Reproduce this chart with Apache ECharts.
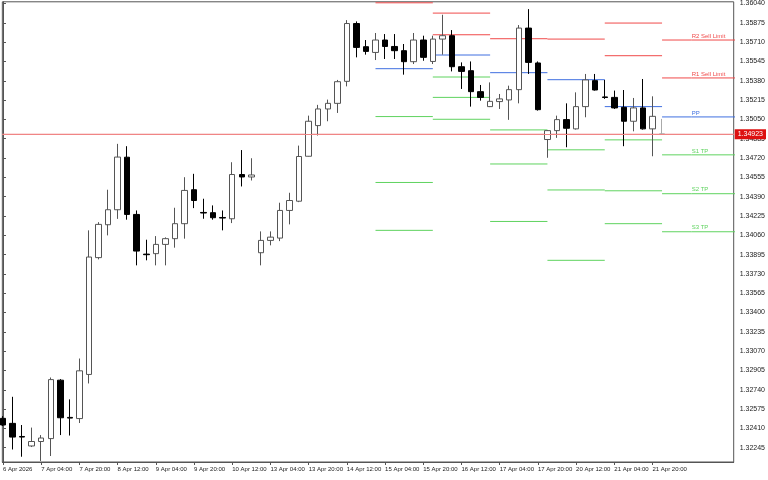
<!DOCTYPE html>
<html><head><meta charset="utf-8">
<script src="https://cdn.jsdelivr.net/npm/echarts@6/dist/echarts.min.js"></script>
<style>html,body{margin:0;padding:0;background:#fff}#c{width:768px;height:480px}</style>
</head><body><div id="c"></div>
<script>
// ---- x axis (4H bars numbered from 6 Apr 12:00, weekends skipped) ----
const xTickLabels = ['6 Apr 2026','7 Apr 04:00','7 Apr 20:00','8 Apr 12:00','9 Apr 04:00','9 Apr 20:00',
  '10 Apr 12:00','13 Apr 04:00','13 Apr 20:00','14 Apr 12:00','15 Apr 04:00','15 Apr 20:00',
  '16 Apr 12:00','17 Apr 04:00','17 Apr 20:00','20 Apr 12:00','21 Apr 04:00','21 Apr 20:00'];
const xTickBars = [0,4,8,12,16,20,24,28,32,36,40,44,48,52,56,60,64,68];
const xMin = -0.07, xMax = 76.5;

// ---- OHLC ----
const opens = [1.32496,1.32453,1.32341,1.32260,1.32298,1.32323,1.32822,1.32504,1.32494,1.32871,
  1.33869,1.34150,1.34278,1.34727,1.34238,1.33899,1.33903,1.33982,1.34031,1.34159,
  1.34449,1.34255,1.34253,1.34212,1.34201,1.34579,1.34558,1.33911,1.34016,1.34036,
  1.34272,1.34351,1.34735,1.34997,1.35139,1.35187,1.35375,1.35869,1.35671,1.35622,
  1.35728,1.35673,1.35637,1.35543,1.35728,1.35545,1.35736,1.35765,1.35500,1.35466,
  1.35287,1.35159,1.35202,1.35216,1.35304,1.35830,1.35532,1.34878,1.34954,1.35048,
  1.34969,1.35159,1.35381,1.35242,1.35238,1.35153,1.35034,1.35148,1.34969,1.34926];
const closes = [1.32439,1.32336,1.32336,1.32298,1.32328,1.32827,1.32501,1.32498,1.32902,1.33874,
  1.34153,1.34278,1.34728,1.34238,1.33925,1.33894,1.33982,1.34031,1.34159,1.34443,
  1.34357,1.34250,1.34210,1.34207,1.34579,1.34558,1.34575,1.34016,1.34044,1.34272,
  1.34357,1.34733,1.35034,1.35139,1.35187,1.35372,1.35869,1.35665,1.35631,1.35728,
  1.35673,1.35637,1.35543,1.35728,1.35580,1.35736,1.35765,1.35500,1.35460,1.35287,
  1.35238,1.35204,1.35225,1.35304,1.35830,1.35537,1.35133,1.34954,1.35048,1.34974,
  1.35159,1.35387,1.35301,1.35237,1.35148,1.35034,1.35148,1.34969,1.35076,1.34923];
const lows = [1.32430,1.32230,1.32168,1.32251,1.32132,1.32174,1.32353,1.32349,1.32456,1.32794,
  1.33854,1.34059,1.34200,1.34193,1.33803,1.33846,1.33803,1.33803,1.33954,1.34031,
  1.34292,1.34201,1.34193,1.34102,1.34164,1.34477,1.34528,1.33803,1.33974,1.34010,
  1.34153,1.34343,1.34733,1.34912,1.35034,1.35105,1.35332,1.35580,1.35603,1.35557,
  1.35566,1.35566,1.35432,1.35523,1.35551,1.35523,1.35603,1.35460,1.35310,1.35159,
  1.35210,1.35155,1.35139,1.35046,1.35187,1.35438,1.35125,1.34722,1.34892,1.34812,
  1.34963,1.35068,1.35296,1.35225,1.35139,1.34821,1.34948,1.34963,1.34735,1.34920];
const highs = [1.32515,1.32680,1.32439,1.32417,1.32353,1.32845,1.32831,1.32658,1.33007,1.34102,
  1.34172,1.34449,1.34841,1.34821,1.34272,1.34022,1.34053,1.34042,1.34295,1.34556,
  1.34585,1.34372,1.34315,1.34272,1.34684,1.34788,1.34718,1.34093,1.34093,1.34338,
  1.34423,1.34826,1.35082,1.35174,1.35219,1.35387,1.35898,1.35887,1.35728,1.35788,
  1.35779,1.35779,1.35694,1.35788,1.35765,1.35765,1.35944,1.35813,1.35537,1.35545,
  1.35344,1.35366,1.35267,1.35338,1.35856,1.35992,1.35545,1.34959,1.35082,1.35187,
  1.35281,1.35438,1.35438,1.35387,1.35296,1.35301,1.35233,1.35395,1.35247,1.35054];
const currentPrice = 1.34923;

// ---- y axis ticks ----
const yTickValues = [1.36040,1.35875,1.35710,1.35545,1.35380,1.35215,1.35050,1.34885,1.34720,1.34555,
  1.34390,1.34225,1.34060,1.33895,1.33730,1.33565,1.33400,1.33235,1.33070,1.32905,
  1.32740,1.32575,1.32410,1.32245];
const yMin = 1.32123, yMax = 1.360545;

// ---- daily pivot levels (15..22 Apr) ----
const levelStart = [39,45,51,57,63,69];
const levelEnd   = [45,51,57,63,69,80];
const levelR2 = [null,   1.35958,null,   null,   1.35873,1.35728];
const levelR1 = [1.36046,1.35773,1.35739,1.35736,1.35594,1.35404];
const levelPP = [1.35483,1.35600,1.35449,1.35389,1.35159,1.35071];
const levelS1 = [1.35074,1.35412,1.34960,1.34790,1.34875,1.34747];
const levelS2 = [1.34511,1.35238,1.34669,1.34447,1.34440,1.34415];
const levelS3 = [1.34102,1.35051,1.34178,1.33846,1.34159,1.34090];
const levelTags = ['R2 Sell Limit','R1 Sell Limit','PP','S1 TP','S2 TP','S3 TP'];
const labelBar = 72.1;

const RED = '#f04a4a', BLUE = '#3f6fe0', GREEN = '#5fd35f';
const FONT = '"Liberation Sans", Arial, sans-serif';

const candleData = opens.map((o, i) => {
  const item = { value: [i, o, closes[i], lows[i], highs[i]] };
  if (i === opens.length - 1) item.itemStyle = { borderColor: '#aaa', borderColor0: '#aaa', color: '#fff', color0: '#fff' };
  return item;
});

function levelSeries(arr, tag, color) {
  const data = [];
  arr.forEach((v, i) => {
    if (v == null) return;
    data.push([levelStart[i], v]);
    if (i === arr.length - 1) {
      data.push({ value: [labelBar, v], label: { show: true, formatter: tag } });
    }
    data.push([levelEnd[i], v]);
    data.push([levelEnd[i], null]);
  });
  return {
    type: 'line', data, silent: true, clip: true,
    symbol: 'circle', symbolSize: 0, showSymbol: true, showAllSymbol: true,
    connectNulls: false,
    lineStyle: { color, width: 1 }, itemStyle: { color },
    label: { show: false, position: 'top', align: 'left', distance: 1,
      color, fontSize: 6, fontFamily: FONT },
    emphasis: { disabled: true }, z: 3
  };
}

const chart = echarts.init(document.getElementById('c'), null, { renderer: 'canvas' });
chart.setOption({
  animation: false,
  backgroundColor: '#ffffff',
  grid: { left: 1, right: 33.46, top: 1, bottom: 18, show: true, borderColor: '#555', borderWidth: 1, backgroundColor: 'transparent' },
  xAxis: {
    type: 'value', min: xMin, max: xMax,
    axisLine: { show: true, lineStyle: { color: '#555' } },
    axisTick: { show: true, length: 3, customValues: xTickBars, lineStyle: { color: '#555' } },
    axisLabel: { show: true, align: 'left', margin: 4, fontSize: 6, color: '#222', fontFamily: FONT,
      customValues: xTickBars, hideOverlap: false,
      formatter: (v) => { const k = xTickBars.indexOf(Math.round(v)); return k >= 0 ? xTickLabels[k] : ''; } },
    splitLine: { show: false }
  },
  yAxis: {
    type: 'value', position: 'right', min: yMin, max: yMax, scale: true,
    axisLine: { show: true, lineStyle: { color: '#555' } },
    axisTick: { show: true, length: 3, customValues: yTickValues, lineStyle: { color: '#555' } },
    axisLabel: { show: true, margin: 6, fontSize: 7, color: '#222', fontFamily: FONT, customValues: yTickValues,
      formatter: (v) => v.toFixed(5) },
    splitLine: { show: false }
  },
  series: [
    {
      type: 'candlestick', data: candleData, barWidth: 6, silent: true, clip: true,
      encode: { x: 0, y: [1, 2, 3, 4] },
      itemStyle: { color: '#ffffff', color0: '#000000', borderColor: '#555', borderColor0: '#000', borderWidth: 1 },
      emphasis: { disabled: true },
      z: 4
    },
    {
      type: 'line', data: [[xMin, currentPrice], [xMax, currentPrice]], silent: true, clip: true,
      symbol: 'none', lineStyle: { color: '#f08585', width: 1 }, emphasis: { disabled: true }, z: 2,
      markLine: {
        symbol: 'none', silent: true, animation: false, precision: 5,
        lineStyle: { color: '#f08585', width: 1, type: 'solid' },
        label: { show: true, position: 'end', distance: 1, formatter: currentPrice.toFixed(5),
          backgroundColor: '#dd1010', color: '#fff', fontSize: 7, fontFamily: FONT, padding: [2, 3, 1, 3] },
        emphasis: { disabled: true },
        data: [{ yAxis: currentPrice }]
      }
    },
    levelSeries(levelR2, levelTags[0], RED),
    levelSeries(levelR1, levelTags[1], RED),
    levelSeries(levelPP, levelTags[2], BLUE),
    levelSeries(levelS1, levelTags[3], GREEN),
    levelSeries(levelS2, levelTags[4], GREEN),
    levelSeries(levelS3, levelTags[5], GREEN)
  ]
});
</script></body></html>
